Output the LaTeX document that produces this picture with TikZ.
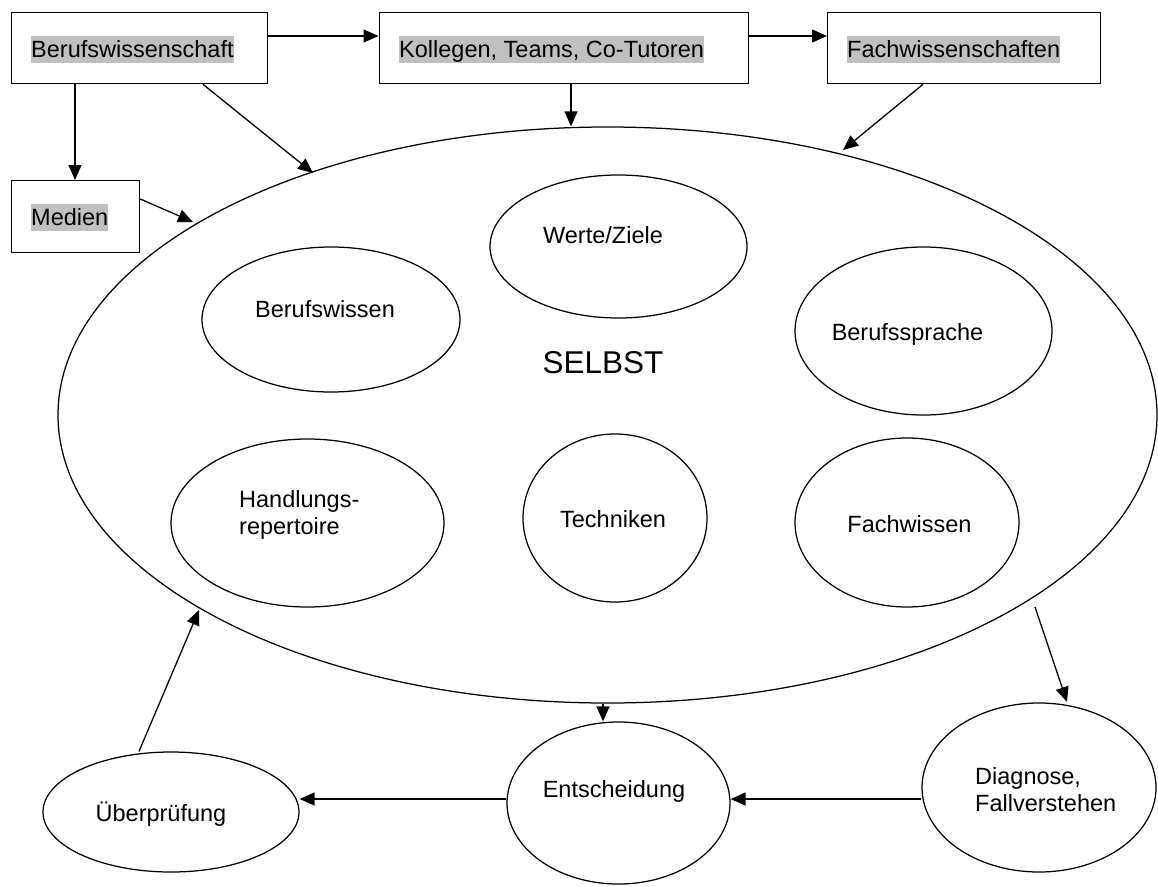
\documentclass[tikz,border=0pt]{standalone}
\usepackage{fontspec}
\setmainfont{Liberation Sans}
\usetikzlibrary{shapes.geometric,arrows.meta}
\definecolor{hl}{RGB}{192,192,192}
\begin{document}
\begin{tikzpicture}[x=1pt,y=-1pt,
  box/.style={draw,line width=1.3pt,rectangle,anchor=north west,inner sep=0pt},
  ell/.style={draw,line width=1.25pt,ellipse,inner sep=0pt},
  lbl/.style={font=\fontsize{23.5}{27}\selectfont,inner sep=0pt,anchor=base},
  hlbl/.style={font=\fontsize{23.5}{27}\selectfont,inner sep=0pt,fill=hl,anchor=north west,text height=21.5pt,text depth=5.5pt},
  arr/.style={line width=1.3pt,-{Triangle[length=15pt,width=13pt]}},
]
\useasboundingbox (0,0) rectangle (1158,886);

% boxes
\node[box,minimum width=256pt,minimum height=71pt] (B) at (11,12) {};
\node[box,minimum width=369pt,minimum height=71pt] (K) at (378.5,12) {};
\node[box,minimum width=273pt,minimum height=71pt] (F) at (827,12) {};
\node[box,minimum width=128pt,minimum height=72pt] (M) at (11,180) {};
\node[hlbl] (Bt) at (31,36) {Berufswissenschaft\ };
\node[hlbl] (Kt) at (399,36) {Kollegen, Teams, Co-Tutoren\ };
\node[hlbl] (Ft) at (847,36) {Fachwissenschaften\ };
\node[hlbl] (Mt) at (31,204) {Medien};

% big ellipse
\node[ell,minimum width=1099pt,minimum height=576pt] (big) at (607.5,415) {};
\node[lbl,font=\fontsize{31.5}{36}\selectfont] (S) at (603,373) {SELBST};

% inner ellipses
\node[ell,minimum width=257pt,minimum height=143pt] (W) at (618.5,246.5) {};
\node[lbl] (Wt) at (603,243) {Werte/Ziele};
\node[ell,minimum width=258pt,minimum height=145pt] (BW) at (331,319.5) {};
\node[lbl] (BWt) at (325,317) {Berufswissen};
\node[ell,minimum width=257pt,minimum height=168pt] (BS) at (923.5,331) {};
\node[lbl] (BSt) at (907.5,340) {Berufssprache};
\node[ell,minimum width=273pt,minimum height=168pt] (H) at (307.5,523) {};
\node[lbl,anchor=base west] (Ht1) at (239,507) {Handlungs-};
\node[lbl,anchor=base west] (Ht2) at (239,534) {repertoire};
\node[ell,minimum width=184pt,minimum height=168pt] (T) at (615,518) {};
\node[lbl] (Tt) at (613,527) {Techniken};
\node[ell,minimum width=224pt,minimum height=169pt] (FW) at (907,522.5) {};
\node[lbl] (FWt) at (909.5,532) {Fachwissen};

% bottom ellipses
\node[ell,minimum width=256pt,minimum height=120pt] (U) at (171,812) {};
\node[lbl] (Ut) at (161,821) {Überprüfung};
\node[ell,minimum width=223pt,minimum height=162pt] (E) at (618.5,803) {};
\node[lbl] (Et) at (614,797) {Entscheidung};
\node[ell,minimum width=234pt,minimum height=169pt] (D) at (1039,787.5) {};
\node[lbl,anchor=base west] (Dt1) at (975,784) {Diagnose,};
\node[lbl,anchor=base west] (Dt2) at (975,811) {Fallverstehen};

% helper coordinates
\coordinate (hy) at (0,36);
\coordinate (mx) at (75,0);
\coordinate (bd) at (203,0);
\coordinate (t1) at (313,173);
\coordinate (kx) at (571,0);
\coordinate (fd) at (923,0);
\coordinate (t2) at (843,150);
\coordinate (my) at (0,199);
\coordinate (t3) at (193,222);
\coordinate (ex) at (603,0);
\coordinate (s4) at (1035,607);
\coordinate (t4) at (1067,702);
\coordinate (ay) at (0,799);
\coordinate (t5) at (199,610);
\coordinate (ux) at (139,0);

% arrows
\draw[arr] (B.east |- hy) -- (K.west |- hy);
\draw[arr] (K.east |- hy) -- (F.west |- hy);
\draw[arr] (mx |- B.south) -- (mx |- M.north);
\draw[arr] (bd |- B.south) -- (t1);
\draw[arr] (kx |- K.south) -- (kx |- big.north);
\draw[arr] (fd |- F.south) -- (t2);
\draw[arr] (M.east |- my) -- (t3);
\draw[arr] (ex |- big.south) -- (ex |- E.north);
\draw[arr] (s4) -- (t4);
\draw[arr] (D.west |- ay) -- (E.east |- ay);
\draw[arr] (E.west |- ay) -- (U.east |- ay);
\draw[arr] (ux |- U.north) -- (t5);
\end{tikzpicture}
\end{document}
